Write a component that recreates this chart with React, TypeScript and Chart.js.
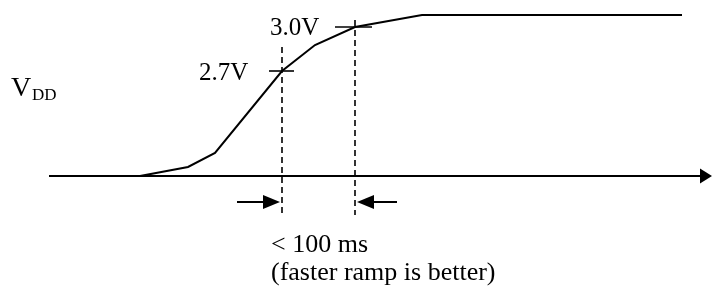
import React, { useEffect, useRef } from "react";
import { Chart, registerables } from "chart.js";

Chart.register(...registerables);

// Supply ramp (time units along the axis, level above the time axis)
const rampTime = [140, 188, 215, 282, 315, 355, 422, 682];
const rampLevel = [0, 9, 23, 105, 131, 149, 161, 161];

// Time axis extent
const axisTime = [49, 703];
const axisLevel = [0, 0];

// Threshold markers
const thresholdLabels = ["2.7V", "3.0V"];
const thresholdTime = [282, 355];
const thresholdLevel = [105, 149];
const thresholdTickLeft = [269, 335];
const thresholdTickRight = [294, 372];
const dashTop = [129, 156];
const dashBottom = -39;

const rampNote = "< 100 ms";
const rampHint = "(faster ramp is better)";
const yTitle = "V";
const yTitleSub = "DD";

const FONT = '"Liberation Serif", "Times New Roman", serif';

export default function App() {
  const ref = useRef<HTMLCanvasElement | null>(null);

  useEffect(() => {
    if (!ref.current) return;
    const black = "#000000";
    const seg = (x: number[], y: number[]) => x.map((v, i) => ({ x: v, y: y[i] }));

    const datasets: any[] = [
      {
        data: seg(axisTime, axisLevel),
        borderColor: black,
        borderWidth: 2,
        pointRadius: 0,
        showLine: true,
      },
      {
        data: seg(rampTime, rampLevel),
        borderColor: black,
        borderWidth: 2,
        pointRadius: 0,
        showLine: true,
        tension: 0,
      },
    ];
    thresholdTime.forEach((t, i) => {
      datasets.push({
        data: [
          { x: t, y: dashTop[i] },
          { x: t, y: dashBottom },
        ],
        borderColor: black,
        borderWidth: 1.6,
        borderDash: [6, 4],
        pointRadius: 0,
        showLine: true,
      });
      datasets.push({
        data: [
          { x: thresholdTickLeft[i], y: thresholdLevel[i] },
          { x: thresholdTickRight[i], y: thresholdLevel[i] },
        ],
        borderColor: black,
        borderWidth: 1.6,
        pointRadius: 0,
        showLine: true,
      });
    });
    // interval arrows' shafts
    datasets.push({
      data: [
        { x: 237, y: -26 },
        { x: 266, y: -26 },
      ],
      borderColor: black,
      borderWidth: 2,
      pointRadius: 0,
      showLine: true,
    });
    datasets.push({
      data: [
        { x: 370, y: -26 },
        { x: 397, y: -26 },
      ],
      borderColor: black,
      borderWidth: 2,
      pointRadius: 0,
      showLine: true,
    });

    const annot = {
      id: "annot",
      afterDatasetsDraw(chart: any) {
        const { ctx, scales } = chart;
        const px = (v: number) => scales.x.getPixelForValue(v);
        const py = (v: number) => scales.y.getPixelForValue(v);
        ctx.save();
        ctx.fillStyle = "#000";
        const tri = (tipX: number, tipY: number, baseX: number, half: number) => {
          ctx.beginPath();
          ctx.moveTo(px(tipX), py(tipY));
          ctx.lineTo(px(baseX), py(tipY) - half);
          ctx.lineTo(px(baseX), py(tipY) + half);
          ctx.closePath();
          ctx.fill();
        };
        tri(712, 0, 700, 7.5);
        tri(280, -26, 263, 7);
        tri(357, -26, 374, 7);

        ctx.textBaseline = "alphabetic";
        ctx.textAlign = "left";
        ctx.font = `28px ${FONT}`;
        ctx.fillText(yTitle, 11, py(80));
        ctx.font = `17px ${FONT}`;
        ctx.fillText(yTitleSub, 32, py(76));

        ctx.font = `25px ${FONT}`;
        ctx.fillText(thresholdLabels[0], 199, py(96));
        ctx.fillText(thresholdLabels[1], 270, py(141));

        ctx.font = `26px ${FONT}`;
        ctx.fillText(rampNote, 271, py(-76));
        ctx.fillText(rampHint, 271, py(-104));
        ctx.restore();
      },
    };

    const chart = new Chart(ref.current, {
      type: "scatter",
      data: { datasets },
      options: {
        animation: false,
        responsive: false,
        events: [],
        layout: { padding: 0 },
        plugins: { legend: { display: false }, tooltip: { enabled: false } },
        scales: {
          x: { type: "linear", min: 0, max: 712, display: false },
          y: { type: "linear", min: -111, max: 176, display: false },
        },
      },
      plugins: [annot],
    });
    return () => chart.destroy();
  }, []);

  return (
    <div style={{ position: "fixed", left: 0, top: 0, width: 712, height: 287, background: "#fff" }}>
      <canvas ref={ref} width={712} height={287} style={{ display: "block" }} />
    </div>
  );
}
